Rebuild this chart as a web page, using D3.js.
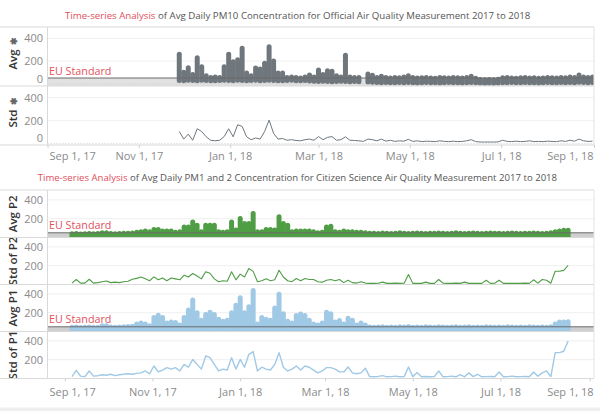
<!DOCTYPE html>
<html><head><meta charset="utf-8">
<script src="https://cdn.jsdelivr.net/npm/d3@7"></script>
<style>body{margin:0;background:#fff;} svg{display:block;font-family:"Open Sans",sans-serif;}</style>
</head><body><svg id="c" width="600" height="411"></svg>
<script>
// ---------------- DATA ----------------
const stepDays = 3;
// Official PM10 (one value every 3 days starting topStart)
const topStart = "2017-11-28";
const pm10AvgHi = [259,100,140,80,229,150,70,55,60,55,
150,260,194,210,312,94,70,138,130,180,
326,200,94,94,55,60,55,50,60,77,
60,120,80,113,110,70,60,250,60,55,
55,null,85,75,55,65,55,50,55,52,
58,70,55,50,52,55,50,48,55,52,
50,55,52,50,55,65,48,38,35,36,
35,40,52,55,50,48,52,55,50,52,
48,50,55,52,50,55,52,58,55,77,
60,55,58];
const pm10AvgLo = [28,25,30,28,25,30,28,26,25,28,
30,28,25,30,28,26,28,30,25,28,
30,28,26,25,28,30,26,25,28,24,
22,20,22,20,18,20,22,20,18,20,
18,null,15,12,10,8,10,8,8,10,
8,10,8,6,8,10,8,8,6,8,
10,8,8,6,8,10,8,6,5,6,
5,6,8,8,10,8,8,10,8,8,
6,8,10,8,8,10,8,10,8,12,
10,8,10];
const pm10Std = [106,40,83,30,130,106,60,30,25,30,
62,130,60,165,150,60,35,50,40,106,
205,90,40,45,30,35,28,25,35,40,
30,62,35,55,62,30,35,60,30,28,
25,20,40,35,25,40,22,30,20,25,
22,38,20,25,18,22,20,18,25,20,
18,22,18,20,25,35,18,15,14,15,
14,16,30,20,18,22,18,20,25,18,
20,18,22,20,18,25,20,30,22,40,
25,20,22];

// Citizen science PM2 / PM1 (one value every 3 days starting citStart)
const citStart = "2017-09-06";
const p2AvgHi = [40,42,38,40,42,40,42,50,50,42,
40,42,45,45,48,55,60,70,60,85,
85,70,70,70,55,60,113,113,165,130,
60,130,130,130,60,55,60,165,80,202,
150,150,255,60,60,85,85,80,220,150,
130,60,70,70,70,70,60,50,55,113,
120,60,55,70,60,60,55,55,50,45,
45,42,48,45,42,45,50,45,42,45,
48,45,42,45,45,48,45,42,45,50,
45,42,45,48,45,42,45,48,45,45,
42,45,48,45,42,45,45,48,45,42,
45,50,60,70,77,77];
const p2AvgLo = [12,12,12,12,12,12,12,12,12,12,
12,12,12,14,14,14,15,15,15,15,
15,15,15,15,15,15,16,16,16,16,
16,16,16,16,16,16,16,16,16,16,
16,16,16,16,16,16,16,16,16,16,
15,15,15,15,15,15,14,14,14,14,
14,14,14,14,13,13,13,13,12,12,
12,12,12,12,12,12,12,12,12,12,
12,12,12,12,12,12,12,12,12,12,
12,12,12,12,12,12,12,12,12,12,
12,12,12,12,12,12,12,12,12,12,
12,12,14,14,14,14];
const p2Std = [15,53,15,15,56,15,20,30,38,20,
25,20,30,35,56,65,80,60,40,81,
50,70,40,70,60,50,99,80,117,90,
60,135,120,60,30,40,35,135,50,110,
80,170,140,30,40,60,40,50,152,80,
40,30,64,40,64,53,53,30,25,45,
53,40,53,20,45,20,15,30,15,12,
12,14,25,12,12,15,12,14,106,12,
14,12,25,12,12,53,14,12,12,15,
12,25,12,14,12,12,45,12,14,45,
12,12,14,12,12,15,12,50,14,53,
45,14,141,141,150,205];
const p1AvgHi = [45,48,42,45,48,45,45,60,60,48,
45,48,50,52,55,80,91,80,60,150,
173,150,90,100,95,70,150,230,335,200,
120,180,204,180,130,110,120,200,280,360,
200,262,437,80,150,130,120,250,395,190,
110,90,170,187,170,120,80,70,90,204,
190,100,117,80,141,120,70,90,70,48,
45,48,50,45,48,45,50,48,52,45,
48,45,50,48,45,50,48,45,48,50,
45,48,50,45,48,45,50,48,45,48,
45,50,48,45,48,45,50,48,45,48,
45,50,80,100,100,105];
const p1AvgLo = [12,12,12,12,12,12,12,12,12,12,
12,12,12,14,14,14,15,15,15,15,
15,15,15,15,15,15,16,16,16,16,
16,16,16,16,16,16,16,16,16,16,
16,16,16,16,16,16,16,16,16,16,
15,15,15,15,15,15,14,14,14,14,
14,14,14,14,13,13,13,13,12,12,
12,12,12,12,12,12,12,12,12,12,
12,12,12,12,12,12,12,12,12,12,
12,12,12,12,12,12,12,12,12,12,
12,12,12,12,12,12,12,12,12,12,
12,12,14,14,14,14];
const p1Std = [20,87,25,20,80,25,30,40,35,45,
30,40,45,50,45,55,60,80,50,133,
70,90,116,100,116,80,150,120,203,150,
100,240,222,150,80,100,90,222,100,203,
120,257,285,80,120,100,90,150,275,120,
80,100,133,90,133,120,90,60,80,116,
116,100,70,70,122,60,50,60,110,20,
18,22,30,18,20,25,18,20,122,20,
63,18,22,18,20,80,18,20,25,18,
40,18,60,20,45,18,20,22,18,70,
18,20,25,18,20,22,18,70,25,60,
80,20,275,275,290,400];

const xTickDates = ["2017-09-01","2017-11-01","2018-01-01","2018-03-01","2018-05-01","2018-07-01","2018-09-01"];
const topYTicks = [0,200,400];
const botYTicks = [200,400];
const euStandard = 50;
const title1Red = "Time-series Analysis";
const title1Rest = " of Avg Daily PM10 Concentration for Official Air Quality Measurement 2017 to 2018";
const title2Red = "Time-series Analysis";
const title2Rest = " of Avg Daily PM1 and 2 Concentration for Citizen Science Air Quality Measurement 2017 to 2018";

// ---------------- DRAW ----------------
const svg = d3.select("#c");
const parse = d3.utcParse("%Y-%m-%d");
const datesFrom = (start, n) => d3.range(n).map(i => d3.utcDay.offset(parse(start), i * stepDays));
const fmt = d3.utcFormat("%b %-d, %y");

const X0 = 47.5, X1 = 594;
const GRAY = "#6f777d", GREEN = "#4f9d45", BLUE = "#a0c9e6";
const FRAME = "#d9d9d9";

const xTop = d3.scaleUtc().domain([parse("2017-09-01"), parse("2018-09-01")]).range([X0, X1]);
const xBot = d3.scaleUtc().domain([parse("2017-08-20"), parse("2018-09-04")]).range([X0, X1]);

const topDates = datesFrom(topStart, pm10AvgHi.length);
const citDates = datesFrom(citStart, p2AvgHi.length);

const panels = [
  {id:"a", x:xTop, top:27, bottom:86, y:d3.scaleLinear().domain([0,400]).range([83.7,38.3]), kind:"avg",
   hi:pm10AvgHi, lo:pm10AvgLo, dates:topDates, color:GRAY, title:"Avg", pin:true, ticks:topYTicks, zero:true},
  {id:"b", x:xTop, top:86, bottom:145, y:d3.scaleLinear().domain([0,400]).range([143.7,97.7]), kind:"std",
   vals:pm10Std, dates:topDates, color:GRAY, title:"Std", pin:true, ticks:topYTicks, zero:true, sw:1},
  {id:"c", x:xBot, top:190, bottom:237.5, y:d3.scaleLinear().domain([0,500]).range([237.5,190.5]), kind:"avg",
   hi:p2AvgHi, lo:p2AvgLo, dates:citDates, color:GREEN, title:"Avg P2", ticks:botYTicks},
  {id:"d", x:xBot, top:237.5, bottom:284.5, y:d3.scaleLinear().domain([0,500]).range([284.5,237.5]), kind:"std",
   vals:p2Std, dates:citDates, color:GREEN, title:"Std of P2", ticks:botYTicks, sw:1.1},
  {id:"e", x:xBot, top:284.5, bottom:331.5, y:d3.scaleLinear().domain([0,500]).range([331.5,284.5]), kind:"avg",
   hi:p1AvgHi, lo:p1AvgLo, dates:citDates, color:BLUE, title:"Avg P1", ticks:botYTicks},
  {id:"f", x:xBot, top:331.5, bottom:378.5, y:d3.scaleLinear().domain([0,500]).range([378.5,331.5]), kind:"std",
   vals:p1Std, dates:citDates, color:BLUE, title:"Std of P1", ticks:botYTicks, sw:1.4},
];

const defs = svg.append("defs");

function fitWidth(sel, target) {
  const w = sel.node().getComputedTextLength();
  const fs = parseFloat(sel.style("font-size"));
  sel.style("font-size", (fs * target / w) + "px");
}

panels.forEach(p => {
  defs.append("clipPath").attr("id", "clip" + p.id)
    .append("rect").attr("x", X0).attr("y", p.top).attr("width", X1 - X0).attr("height", p.bottom - p.top);
  const g = svg.append("g");
  const gc = g.append("g").attr("clip-path", `url(#clip${p.id})`);

  // gridlines
  gc.selectAll(".grid").data([200, 400]).join("line")
    .attr("x1", X0).attr("x2", X1).attr("y1", d => p.y(d)).attr("y2", d => p.y(d))
    .attr("stroke", "#efefef").attr("stroke-width", 1);

  if (p.kind === "avg") {
    // EU reference band
    gc.append("rect").attr("x", X0).attr("width", X1 - X0)
      .attr("y", p.y(euStandard)).attr("height", p.bottom - p.y(euStandard))
      .attr("fill", p.id === "a" ? "#e2e2e2" : "#cfcfcf");
  }
  if (p.zero) {
    gc.append("line").attr("x1", X0).attr("x2", X1).attr("y1", p.y(0)).attr("y2", p.y(0))
      .attr("stroke", "#c8c8c8").attr("stroke-dasharray", "1,2");
  }

  if (p.kind === "avg") {
    const idx = d3.range(p.hi.length).filter(i => p.hi[i] != null);
    gc.selectAll(".col").data(idx).join("line")
      .attr("x1", i => p.x(p.dates[i])).attr("x2", i => p.x(p.dates[i]))
      .attr("y1", i => p.y(p.lo[i])).attr("y2", i => p.y(p.hi[i]))
      .attr("stroke", p.color).attr("stroke-width", 5).attr("stroke-linecap", "round");
    // EU line on top
    g.append("line").attr("x1", X0).attr("x2", X1)
      .attr("y1", p.y(euStandard)).attr("y2", p.y(euStandard))
      .attr("stroke", "#6b6b6b").attr("stroke-width", 1);
    const t = g.append("text").attr("x", 49).attr("y", p.y(euStandard) - 3.5)
      .attr("fill", "#e0505c").style("font-size", "12px").text("EU Standard");
    fitWidth(t, 62.5);
  } else {
    const line = d3.line().defined(d => d.v != null).x(d => p.x(d.d)).y(d => p.y(d.v));
    const data = p.vals.map((v, i) => ({d: p.dates[i], v}));
    gc.append("path").datum(data).attr("d", line)
      .attr("fill", "none").attr("stroke", p.color).attr("stroke-width", p.sw).attr("stroke-linejoin", "round");
  }

  // y tick labels
  g.selectAll(".yt").data(p.ticks).join("text")
    .attr("x", 43).attr("y", d => Math.min(p.y(d), p.bottom - 7))
    .attr("dy", "0.36em").attr("text-anchor", "end")
    .attr("fill", "#8a8a8a").style("font-size", "11px").text(d => d);

  // y title
  const cy = (p.top + p.bottom) / 2 - (p.pin ? 3 : 0);
  const tt = g.append("text").attr("transform", `translate(17,${cy}) rotate(-90)`)
    .attr("text-anchor", "middle").attr("fill", "#333").style("font-size", "11.5px")
    .style("font-weight", "600").text(p.title);
  if (p.pin) tt.append("tspan").attr("dx", 4).style("font-size", "9px").attr("fill", "#666").text("✱");
});

// frames
function frame(ys, top, bottom) {
  ys.forEach(y => svg.append("line").attr("x1", 0).attr("x2", X1).attr("y1", y).attr("y2", y)
    .attr("stroke", FRAME).attr("stroke-width", 1));
  [X0, X1].forEach(x => svg.append("line").attr("x1", x).attr("x2", x).attr("y1", top).attr("y2", bottom)
    .attr("stroke", x === X0 ? FRAME : "#e4e4e4").attr("stroke-width", 1));
}
frame([27, 86, 145], 27, 145);
frame([190, 237.5, 284.5, 331.5, 378.5], 190, 378.5);

// x axes
function xAxis(x, y, pad) {
  const ax = d3.axisBottom(x).tickValues(xTickDates.map(parse)).tickFormat(fmt).tickSize(3).tickPadding(pad);
  const g = svg.append("g").attr("transform", `translate(0,${y})`).call(ax);
  g.select(".domain").remove();
  g.selectAll(".tick line").attr("stroke", "#d0d0d0");
  g.selectAll(".tick text").attr("fill", "#8a8a8a").style("font-size", "11px").style("font-family", "Open Sans");
  g.selectAll(".tick").each(function(d) {
    const px = x(d);
    const t = d3.select(this).select("text");
    const w = t.node().getComputedTextLength();
    if (px - w / 2 < 49) t.attr("x", 49 + w / 2 - px);
    if (px + w / 2 > 593) t.attr("x", 593 - w / 2 - px);
  });
}
xAxis(xTop, 145, 4);
xAxis(xBot, 378.5, 6.5);

// titles
function title(x, y, red, rest, width) {
  const t = svg.append("text").attr("x", x).attr("y", y).style("font-size", "11px");
  t.append("tspan").attr("fill", "#e0505c").text(red);
  t.append("tspan").attr("fill", "#555").text(rest);
  fitWidth(t, width);
}
title(65, 18.5, title1Red, title1Rest, 466);
title(37.7, 180.5, title2Red, title2Rest, 520);

// bottom strip
svg.append("rect").attr("x", 0).attr("y", 407.5).attr("width", 600).attr("height", 4).attr("fill", "#efefef");
</script></body></html>
